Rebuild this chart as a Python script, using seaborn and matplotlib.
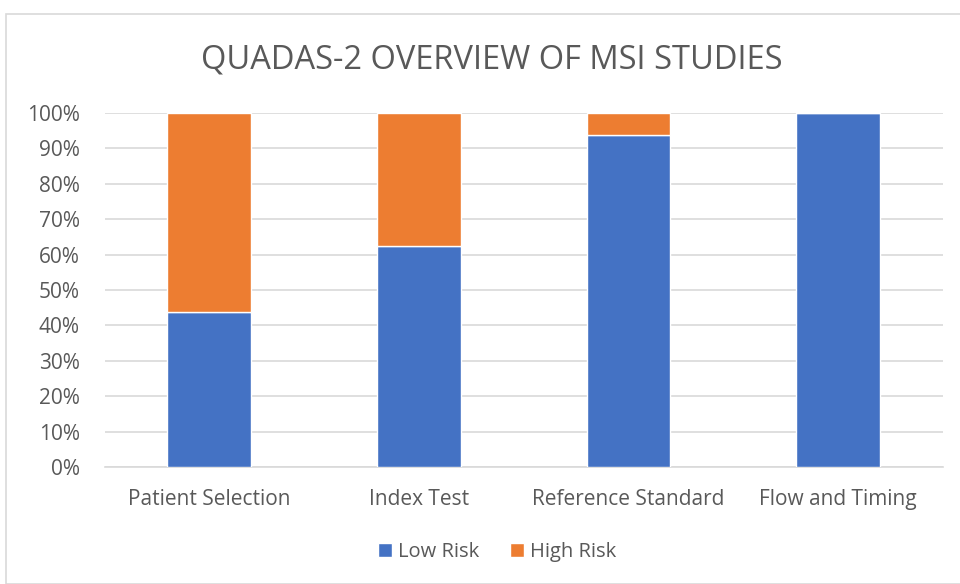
import matplotlib
matplotlib.use("Agg")
import matplotlib.pyplot as plt
import seaborn as sns
import pandas as pd
from matplotlib.patches import Rectangle, Patch

# Data (percent of studies)
domains = ["Patient Selection", "Index Test", "Reference Standard", "Flow and Timing"]
low_risk = [43.75, 62.5, 93.75, 100.0]
high_risk = [56.25, 37.5, 6.25, 0.0]

blue = "#4472C4"
orange = "#ED7D31"
grey_text = "#595959"

sns.set_theme(style="white")
plt.rcParams["font.family"] = ["Open Sans", "DejaVu Sans"]

df = pd.DataFrame({"domain": domains, "low": low_risk, "high": high_risk})

fig = plt.figure(figsize=(9.6, 5.84), dpi=100)
ax = fig.add_axes([0.109, 0.2003, 0.873, 0.6062])

# outer chart frame
fig.patches.append(Rectangle((6 / 960, 0), 1, 1 - 14 / 584, transform=fig.transFigure,
                             fill=False, edgecolor="#d9d9d9", linewidth=1.2))

sns.barplot(data=df, x="domain", y="low", color=blue, width=0.4, ax=ax,
            saturation=1, zorder=3)
sns.barplot(data=df, x="domain", y="high", bottom=df["low"], color=orange,
            width=0.4, ax=ax, saturation=1, zorder=3)

ax.set_ylim(0, 100)
ax.set_xlim(-0.5, 3.5)
ax.set_yticks(range(0, 101, 10))
ax.set_yticklabels([f"{v}%" for v in range(0, 101, 10)])
ax.yaxis.grid(True, color="#d9d9d9", linewidth=1.2, zorder=0)
ax.set_axisbelow(True)
for s in ["top", "right", "left"]:
    ax.spines[s].set_visible(False)
ax.spines["bottom"].set_color("#d9d9d9")
ax.spines["bottom"].set_linewidth(1.2)
ax.set_xlabel("")
ax.set_ylabel("")
ax.tick_params(axis="both", length=0, labelsize=15, colors=grey_text)
ax.tick_params(axis="x", pad=16)
ax.tick_params(axis="y", pad=18)

fig.text(0.512, 0.897, "QUADAS-2 OVERVIEW OF MSI STUDIES", ha="center", va="center",
         fontsize=23.5, color=grey_text)

handles = [Patch(facecolor=blue, label="Low Risk"), Patch(facecolor=orange, label="High Risk")]
fig.legend(handles=handles, loc="center", bbox_to_anchor=(0.518, 0.055), ncol=2,
           frameon=False, fontsize=14.5, handlelength=0.7, handleheight=0.7,
           handletextpad=0.3, columnspacing=1.5, labelcolor=grey_text)

fig.savefig("out.png", dpi=100)
